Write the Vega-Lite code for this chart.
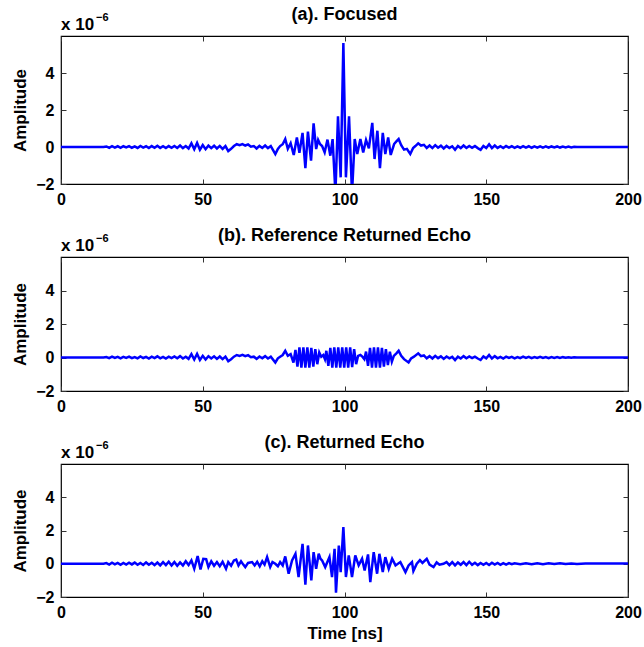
{
  "$schema": "https://vega.github.io/schema/vega-lite/v6.json",
  "padding": {"left": 10, "top": 5, "right": 2, "bottom": 2},
  "background": "white",
  "bounds": "flush",
  "spacing": 73,
  "datasets": {
    "a": [
      {"t":0,"v":0},{"t":15,"v":0},{"t":16,"v":0.03},{"t":17,"v":-0.04},{"t":18,"v":0.05},{"t":19,"v":-0.03},{"t":20,"v":0.04},{"t":21,"v":-0.05},{"t":22,"v":0.04},{"t":23,"v":-0.02},{"t":24,"v":0.05},{"t":25,"v":-0.04},{"t":26,"v":0.03},{"t":27,"v":-0.05},{"t":28,"v":0.06},{"t":29,"v":-0.03},{"t":30,"v":0.04},{"t":31,"v":-0.06},{"t":32,"v":0.05},{"t":33,"v":-0.04},{"t":34,"v":0.07},{"t":35,"v":-0.05},{"t":36,"v":0.04},{"t":37,"v":-0.06},{"t":38,"v":0.05},{"t":39,"v":-0.04},{"t":40,"v":0.06},{"t":41,"v":-0.05},{"t":42,"v":0.08},{"t":43,"v":-0.06},{"t":44,"v":0.05},{"t":45,"v":-0.08},{"t":46,"v":0.2},{"t":47,"v":-0.12},{"t":48,"v":0.22},{"t":49,"v":-0.15},{"t":50,"v":0.1},{"t":51,"v":-0.12},{"t":52,"v":0.08},{"t":53,"v":-0.06},{"t":54,"v":0.07},{"t":55,"v":-0.08},{"t":56,"v":0.06},{"t":57,"v":-0.1},{"t":58,"v":0.05},{"t":59,"v":-0.22},{"t":60,"v":-0.1},{"t":61,"v":0.05},{"t":62,"v":0.15},{"t":63,"v":0.1},{"t":64,"v":0.16},{"t":65,"v":0.08},{"t":66,"v":0.14},{"t":67,"v":0.02},{"t":68,"v":0.05},{"t":69,"v":-0.08},{"t":70,"v":0.06},{"t":71,"v":-0.05},{"t":72,"v":0.08},{"t":73,"v":-0.06},{"t":74,"v":0.05},
      {"t":75.6,"v":-0.38},{"t":76.5,"v":-0.1},{"t":77.3,"v":0.05},{"t":78.2,"v":0.15},{"t":79.1,"v":0.43},{"t":80,"v":-0.1},{"t":81,"v":0.2},{"t":82.1,"v":-0.43},{"t":83.2,"v":0.52},{"t":84.1,"v":-0.32},{"t":85.2,"v":0.76},{"t":86.2,"v":-1.15},{"t":87.1,"v":0.83},{"t":88.2,"v":-0.74},{"t":89.1,"v":1.28},{"t":90,"v":-0.11},{"t":90.7,"v":0.38},{"t":91.4,"v":0.15},{"t":92.1,"v":0.05},{"t":93,"v":-0.29},{"t":94,"v":0.4},{"t":95,"v":-0.47},{"t":95.8,"v":0.43},{"t":96.8,"v":-2.5},{"t":97.7,"v":1.66},{"t":98.65,"v":-1.64},{"t":99.6,"v":5.62},{"t":100.5,"v":-1.64},{"t":101.6,"v":1.66},{"t":102.65,"v":-2.5},{"t":103.6,"v":0.43},{"t":104.5,"v":-0.38},{"t":105.6,"v":0.43},{"t":106.6,"v":-0.29},{"t":107.6,"v":0.38},{"t":108.6,"v":-0.07},{"t":109.8,"v":1.3},{"t":110.6,"v":-0.65},{"t":111.6,"v":0.88},{"t":112.5,"v":-1.15},{"t":113.5,"v":0.76},{"t":114.4,"v":-0.38},{"t":115.4,"v":0.52},{"t":116.3,"v":-0.43},{"t":117.5,"v":0.16},{"t":118.3,"v":0.3},{"t":119.1,"v":0.43},{"t":120,"v":0.1},{"t":121,"v":-0.14},{"t":122,"v":-0.1},{"t":123.2,"v":-0.38},{"t":124.2,"v":-0.05},{"t":125,"v":0.05},{"t":126,"v":0.2},{"t":127,"v":0.08},{"t":128,"v":0.12},
      {"t":129,"v":-0.05},{"t":130,"v":0.08},{"t":131,"v":-0.06},{"t":132,"v":0.1},{"t":133,"v":-0.04},{"t":134,"v":0.07},{"t":135,"v":-0.08},{"t":136,"v":0.06},{"t":137,"v":-0.05},{"t":138,"v":0.04},{"t":139,"v":-0.15},{"t":140,"v":0.05},{"t":141,"v":-0.06},{"t":142,"v":0.08},{"t":143,"v":-0.05},{"t":144,"v":0.06},{"t":145,"v":-0.04},{"t":146,"v":0.05},{"t":147,"v":-0.06},{"t":148,"v":-0.15},{"t":149,"v":0.06},{"t":150,"v":-0.05},{"t":151,"v":0.15},{"t":152,"v":-0.06},{"t":153,"v":0.08},{"t":154,"v":-0.05},{"t":155,"v":0.04},{"t":156,"v":-0.06},{"t":157,"v":0.05},{"t":158,"v":-0.03},{"t":159,"v":0.04},{"t":160,"v":-0.05},{"t":161,"v":0.03},{"t":162,"v":-0.04},{"t":163,"v":0.05},{"t":164,"v":-0.03},{"t":165,"v":0.04},{"t":166,"v":-0.04},{"t":167,"v":0.03},{"t":168,"v":-0.03},{"t":169,"v":0.04},{"t":170,"v":-0.03},{"t":171,"v":0.03},{"t":172,"v":-0.04},{"t":173,"v":0.03},{"t":174,"v":-0.02},{"t":175,"v":0.03},{"t":176,"v":-0.03},{"t":177,"v":0.02},{"t":178,"v":-0.02},{"t":179,"v":0.02},{"t":180,"v":-0.02},{"t":181,"v":0.01},{"t":182,"v":0},{"t":200,"v":0}
    ],
    "b": [
      {"t":0,"v":0},{"t":15,"v":0},{"t":16,"v":0.03},{"t":17,"v":-0.04},{"t":18,"v":0.05},{"t":19,"v":-0.03},{"t":20,"v":0.04},{"t":21,"v":-0.05},{"t":22,"v":0.04},{"t":23,"v":-0.02},{"t":24,"v":0.05},{"t":25,"v":-0.04},{"t":26,"v":0.03},{"t":27,"v":-0.05},{"t":28,"v":0.06},{"t":29,"v":-0.03},{"t":30,"v":0.04},{"t":31,"v":-0.06},{"t":32,"v":0.05},{"t":33,"v":-0.04},{"t":34,"v":0.07},{"t":35,"v":-0.05},{"t":36,"v":0.04},{"t":37,"v":-0.06},{"t":38,"v":0.05},{"t":39,"v":-0.04},{"t":40,"v":0.06},{"t":41,"v":-0.05},{"t":42,"v":0.08},{"t":43,"v":-0.06},{"t":44,"v":0.05},{"t":45,"v":-0.08},{"t":46,"v":0.2},{"t":47,"v":-0.12},{"t":48,"v":0.22},{"t":49,"v":-0.15},{"t":50,"v":0.1},{"t":51,"v":-0.12},{"t":52,"v":0.08},{"t":53,"v":-0.06},{"t":54,"v":0.07},{"t":55,"v":-0.08},{"t":56,"v":0.06},{"t":57,"v":-0.1},{"t":58,"v":0.05},{"t":59,"v":-0.22},{"t":60,"v":-0.1},{"t":61,"v":0.05},{"t":62,"v":0.15},{"t":63,"v":0.1},{"t":64,"v":0.16},{"t":65,"v":0.08},{"t":66,"v":0.14},{"t":67,"v":0.02},{"t":68,"v":0.05},{"t":69,"v":-0.08},{"t":70,"v":0.06},{"t":71,"v":-0.05},{"t":72,"v":0.08},{"t":73,"v":-0.06},{"t":74,"v":0.05},
      {"t":75.6,"v":-0.3},{"t":76.5,"v":-0.05},{"t":77.3,"v":0.05},{"t":78.2,"v":0.15},{"t":79.1,"v":0.4},{"t":80,"v":0.1},{"t":81,"v":0.2},
      {"t":82,"v":-0.3},{"t":82.7,"v":0.45},{"t":83.4,"v":-0.55},{"t":84.1,"v":0.6},{"t":84.8,"v":-0.6},{"t":85.5,"v":0.6},{"t":86.2,"v":-0.6},{"t":86.9,"v":0.6},{"t":87.6,"v":-0.6},{"t":88.3,"v":0.58},{"t":89,"v":-0.55},{"t":89.7,"v":0.5},{"t":90.4,"v":-0.4},{"t":91.1,"v":0.3},{"t":91.8,"v":0.05},{"t":92.5,"v":0.15},{"t":93.1,"v":-0.1},
      {"t":93.6,"v":0.4},{"t":94.3,"v":-0.5},{"t":95,"v":0.58},{"t":95.7,"v":-0.6},{"t":96.4,"v":0.6},{"t":97.1,"v":-0.6},{"t":97.8,"v":0.6},{"t":98.5,"v":-0.6},{"t":99.2,"v":0.6},{"t":99.9,"v":-0.6},{"t":100.6,"v":0.6},{"t":101.3,"v":-0.6},{"t":102,"v":0.6},{"t":102.7,"v":-0.58},{"t":103.4,"v":0.5},{"t":104.1,"v":-0.4},{"t":104.8,"v":0.1},{"t":105.6,"v":0.15},{"t":106.3,"v":0.05},{"t":107,"v":-0.1},
      {"t":107.6,"v":0.35},{"t":108.3,"v":-0.5},{"t":109,"v":0.58},{"t":109.7,"v":-0.6},{"t":110.4,"v":0.6},{"t":111.1,"v":-0.6},{"t":111.8,"v":0.6},{"t":112.5,"v":-0.6},{"t":113.2,"v":0.58},{"t":113.9,"v":-0.55},{"t":114.6,"v":0.5},{"t":115.3,"v":-0.45},{"t":116,"v":0.35},{"t":116.7,"v":-0.25},{"t":117.4,"v":0.1},
      {"t":118.3,"v":0.25},{"t":119.1,"v":0.4},{"t":120,"v":0.1},{"t":121,"v":-0.1},{"t":122.6,"v":-0.3},{"t":123.5,"v":-0.05},{"t":124.5,"v":0.05},{"t":126,"v":0.25},{"t":127,"v":0.08},{"t":128,"v":0.12},
      {"t":129,"v":-0.05},{"t":130,"v":0.08},{"t":131,"v":-0.06},{"t":132,"v":0.1},{"t":133,"v":-0.04},{"t":134,"v":0.07},{"t":135,"v":-0.08},{"t":136,"v":0.06},{"t":137,"v":-0.05},{"t":138,"v":0.04},{"t":139,"v":-0.15},{"t":140,"v":0.05},{"t":141,"v":-0.06},{"t":142,"v":0.08},{"t":143,"v":-0.05},{"t":144,"v":0.06},{"t":145,"v":-0.04},{"t":146,"v":0.05},{"t":147,"v":-0.06},{"t":148,"v":-0.15},{"t":149,"v":0.06},{"t":150,"v":-0.05},{"t":151,"v":0.15},{"t":152,"v":-0.06},{"t":153,"v":0.08},{"t":154,"v":-0.05},{"t":155,"v":0.04},{"t":156,"v":-0.06},{"t":157,"v":0.05},{"t":158,"v":-0.03},{"t":159,"v":0.04},{"t":160,"v":-0.05},{"t":161,"v":0.03},{"t":162,"v":-0.04},{"t":163,"v":0.05},{"t":164,"v":-0.03},{"t":165,"v":0.04},{"t":166,"v":-0.04},{"t":167,"v":0.03},{"t":168,"v":-0.03},{"t":169,"v":0.04},{"t":170,"v":-0.03},{"t":171,"v":0.03},{"t":172,"v":-0.04},{"t":173,"v":0.03},{"t":174,"v":-0.02},{"t":175,"v":0.03},{"t":176,"v":-0.03},{"t":177,"v":0.02},{"t":178,"v":-0.02},{"t":179,"v":0.02},{"t":180,"v":-0.02},{"t":181,"v":0.01},{"t":182,"v":0},{"t":200,"v":0}
    ],
    "c": [
      {"t":0,"v":0},{"t":15,"v":0},{"t":16,"v":0.04},{"t":17,"v":-0.05},{"t":18,"v":0.06},{"t":19,"v":-0.04},{"t":20,"v":0.05},{"t":21,"v":-0.06},{"t":22,"v":0.05},{"t":23,"v":-0.05},{"t":24,"v":0.06},{"t":25,"v":-0.04},{"t":26,"v":0.07},{"t":27,"v":-0.06},{"t":28,"v":0.05},{"t":29,"v":-0.07},{"t":30,"v":0.08},{"t":31,"v":-0.06},{"t":32,"v":0.06},{"t":33,"v":-0.08},{"t":34,"v":0.07},{"t":35,"v":-0.1},{"t":36,"v":0.1},{"t":37,"v":-0.08},{"t":38,"v":0.12},{"t":39,"v":-0.1},{"t":40,"v":0.1},{"t":41,"v":-0.12},{"t":42,"v":0.08},{"t":43,"v":-0.1},{"t":44,"v":0.15},{"t":45,"v":-0.08},{"t":46,"v":0.2},{"t":47,"v":-0.3},{"t":48.2,"v":0.46},{"t":49.2,"v":-0.34},{"t":50.2,"v":0.3},{"t":51.2,"v":0.28},{"t":52,"v":-0.2},{"t":53,"v":0.15},{"t":54,"v":-0.12},{"t":55,"v":0.1},{"t":56,"v":-0.15},{"t":57,"v":0.12},{"t":58.2,"v":-0.3},{"t":59,"v":0.1},{"t":60,"v":-0.12},{"t":61,"v":0.2},{"t":61.8,"v":0.25},{"t":62.6,"v":-0.1},{"t":63.5,"v":0.15},{"t":64.3,"v":-0.05},{"t":65,"v":-0.2},{"t":66,"v":0.05},{"t":67.4,"v":0.1},{"t":68.3,"v":-0.1},{"t":69.2,"v":0.12},{"t":70.1,"v":-0.15},{"t":71,"v":0.15},{"t":71.8,"v":-0.05},{"t":72.7,"v":0.4},{"t":73.8,"v":-0.2},{"t":74.6,"v":0.1},{"t":75.6,"v":0},{"t":76.5,"v":-0.15},{"t":77.3,"v":0.1},{"t":78.2,"v":-0.1},{"t":79.1,"v":0.44},{"t":80.3,"v":-0.6},{"t":81.5,"v":0.2},{"t":82.7,"v":0.6},{"t":83.8,"v":-0.8},{"t":84.5,"v":0.2},{"t":85.2,"v":1.2},{"t":86.2,"v":-1.26},{"t":87.1,"v":1.1},{"t":88.3,"v":-1.0},{"t":89.1,"v":0.7},{"t":90,"v":-0.3},{"t":90.9,"v":0.6},{"t":91.5,"v":0.3},{"t":92.1,"v":0.2},{"t":93.2,"v":-0.2},{"t":94.7,"v":0.4},{"t":95.6,"v":-0.8},{"t":96.5,"v":0.9},{"t":97,"v":-1.74},{"t":98,"v":1.1},{"t":98.65,"v":-0.5},{"t":99.6,"v":2.2},{"t":100.5,"v":-0.8},{"t":101.5,"v":0.5},{"t":102.65,"v":-0.8},{"t":103.8,"v":0.5},{"t":105,"v":-0.1},{"t":106.2,"v":0.3},{"t":107.1,"v":-0.4},{"t":108.3,"v":0.56},{"t":109.1,"v":-1.1},{"t":110.3,"v":0.7},{"t":111.5,"v":-0.6},{"t":112.3,"v":0.6},{"t":113.5,"v":-0.5},{"t":114.4,"v":0.4},{"t":115.6,"v":-0.3},{"t":116.8,"v":0.3},{"t":118,"v":-0.1},{"t":119.7,"v":0.1},{"t":121.5,"v":-0.5},{"t":122.6,"v":-0.1},{"t":123.8,"v":0.1},{"t":124.3,"v":-0.44},{"t":125.5,"v":0},{"t":126.6,"v":0.22},{"t":127.5,"v":0.05},{"t":129,"v":0.3},{"t":130,"v":-0.05},{"t":131.4,"v":-0.2},{"t":132.5,"v":0.08},{"t":133.5,"v":-0.06},{"t":134.9,"v":0},{"t":136,"v":0.1},{"t":137,"v":-0.08},{"t":138,"v":0.1},{"t":139,"v":-0.1},{"t":140,"v":0.08},{"t":141,"v":-0.06},{"t":142,"v":0.1},{"t":143,"v":-0.08},{"t":144,"v":0.12},{"t":145,"v":-0.06},{"t":146,"v":0.06},{"t":147,"v":-0.08},{"t":148,"v":0.05},{"t":149,"v":-0.06},{"t":150,"v":0.05},{"t":151,"v":-0.07},{"t":152,"v":0.06},{"t":153,"v":-0.05},{"t":154,"v":0.05},{"t":155,"v":-0.06},{"t":156,"v":0.04},{"t":157,"v":-0.05},{"t":158,"v":0.04},{"t":159,"v":-0.03},{"t":160,"v":0.03},{"t":162,"v":-0.03},{"t":164,"v":0.03},{"t":166,"v":-0.03},{"t":168,"v":0.03},{"t":170,"v":-0.03},{"t":172,"v":0.03},{"t":174,"v":-0.02},{"t":176,"v":0.03},{"t":178,"v":-0.02},{"t":180,"v":0.02},{"t":182,"v":-0.01},{"t":185,"v":0.01},{"t":190,"v":0.02},{"t":195,"v":0.01},{"t":200,"v":0.02}
    ]
  },
  "vconcat": [
    {
      "title": "(a). Focused",
      "width": 567, "height": 148,
      "data": {"name": "a"},
      "layer": [
        {"mark": {"type": "line", "strokeOpacity": 0, "clip": true},
         "encoding": {
           "x": {"field": "t", "type": "quantitative", "scale": {"domain": [0, 200]}, "axis": {"orient": "top", "labels": false, "title": null, "values": [0, 50, 100, 150, 200]}},
           "y": {"field": "v", "type": "quantitative", "scale": {"domain": [-2, 6]}, "axis": {"orient": "right", "labels": false, "title": null, "values": [-2, 0, 2, 4]}}}},
        {"mark": {"type": "line", "color": "#0000ff", "strokeWidth": 2.5, "clip": true},
         "encoding": {
           "x": {"field": "t", "type": "quantitative", "axis": {"orient": "bottom", "title": null, "values": [0, 50, 100, 150, 200]}},
           "y": {"field": "v", "type": "quantitative", "axis": {"orient": "left", "title": "Amplitude", "values": [-2, 0, 2, 4]}}}},
        {"data": {"values": [{"label": "x 10"}]},
         "mark": {"type": "text", "align": "left", "baseline": "alphabetic", "dy": -6, "fontSize": 17, "fontWeight": "bold", "font": "Liberation Sans", "color": "black"},
         "encoding": {"text": {"field": "label"}, "x": {"datum": 0, "type": "quantitative", "axis": null}, "y": {"datum": 6, "type": "quantitative", "axis": null}}},
        {"data": {"values": [{"label": "−6"}]},
         "mark": {"type": "text", "align": "left", "baseline": "alphabetic", "dx": 35, "dy": -15, "fontSize": 11, "fontWeight": "bold", "font": "Liberation Sans", "color": "black"},
         "encoding": {"text": {"field": "label"}, "x": {"datum": 0, "type": "quantitative", "axis": null}, "y": {"datum": 6, "type": "quantitative", "axis": null}}}
      ],
      "resolve": {"axis": {"x": "independent", "y": "independent"}}
    },
    {
      "title": "(b). Reference Returned Echo",
      "width": 567, "height": 134,
      "data": {"name": "b"},
      "layer": [
        {"mark": {"type": "line", "strokeOpacity": 0, "clip": true},
         "encoding": {
           "x": {"field": "t", "type": "quantitative", "scale": {"domain": [0, 200]}, "axis": {"orient": "top", "labels": false, "title": null, "values": [0, 50, 100, 150, 200]}},
           "y": {"field": "v", "type": "quantitative", "scale": {"domain": [-2, 6]}, "axis": {"orient": "right", "labels": false, "title": null, "values": [-2, 0, 2, 4]}}}},
        {"mark": {"type": "line", "color": "#0000ff", "strokeWidth": 2.5, "clip": true},
         "encoding": {
           "x": {"field": "t", "type": "quantitative", "axis": {"orient": "bottom", "title": null, "values": [0, 50, 100, 150, 200]}},
           "y": {"field": "v", "type": "quantitative", "axis": {"orient": "left", "title": "Amplitude", "values": [-2, 0, 2, 4]}}}},
        {"data": {"values": [{"label": "x 10"}]},
         "mark": {"type": "text", "align": "left", "baseline": "alphabetic", "dy": -6, "fontSize": 17, "fontWeight": "bold", "font": "Liberation Sans", "color": "black"},
         "encoding": {"text": {"field": "label"}, "x": {"datum": 0, "type": "quantitative", "axis": null}, "y": {"datum": 6, "type": "quantitative", "axis": null}}},
        {"data": {"values": [{"label": "−6"}]},
         "mark": {"type": "text", "align": "left", "baseline": "alphabetic", "dx": 35, "dy": -15, "fontSize": 11, "fontWeight": "bold", "font": "Liberation Sans", "color": "black"},
         "encoding": {"text": {"field": "label"}, "x": {"datum": 0, "type": "quantitative", "axis": null}, "y": {"datum": 6, "type": "quantitative", "axis": null}}}
      ],
      "resolve": {"axis": {"x": "independent", "y": "independent"}}
    },
    {
      "title": "(c). Returned Echo",
      "width": 567, "height": 133,
      "data": {"name": "c"},
      "layer": [
        {"mark": {"type": "line", "strokeOpacity": 0, "clip": true},
         "encoding": {
           "x": {"field": "t", "type": "quantitative", "scale": {"domain": [0, 200]}, "axis": {"orient": "top", "labels": false, "title": null, "values": [0, 50, 100, 150, 200]}},
           "y": {"field": "v", "type": "quantitative", "scale": {"domain": [-2, 6]}, "axis": {"orient": "right", "labels": false, "title": null, "values": [-2, 0, 2, 4]}}}},
        {"mark": {"type": "line", "color": "#0000ff", "strokeWidth": 2.5, "clip": true},
         "encoding": {
           "x": {"field": "t", "type": "quantitative", "axis": {"orient": "bottom", "title": "Time [ns]", "values": [0, 50, 100, 150, 200]}},
           "y": {"field": "v", "type": "quantitative", "axis": {"orient": "left", "title": "Amplitude", "values": [-2, 0, 2, 4]}}}},
        {"data": {"values": [{"label": "x 10"}]},
         "mark": {"type": "text", "align": "left", "baseline": "alphabetic", "dy": -6, "fontSize": 17, "fontWeight": "bold", "font": "Liberation Sans", "color": "black"},
         "encoding": {"text": {"field": "label"}, "x": {"datum": 0, "type": "quantitative", "axis": null}, "y": {"datum": 6, "type": "quantitative", "axis": null}}},
        {"data": {"values": [{"label": "−6"}]},
         "mark": {"type": "text", "align": "left", "baseline": "alphabetic", "dx": 35, "dy": -15, "fontSize": 11, "fontWeight": "bold", "font": "Liberation Sans", "color": "black"},
         "encoding": {"text": {"field": "label"}, "x": {"datum": 0, "type": "quantitative", "axis": null}, "y": {"datum": 6, "type": "quantitative", "axis": null}}}
      ],
      "resolve": {"axis": {"x": "independent", "y": "independent"}}
    }
  ],
  "config": {
    "font": "Liberation Sans",
    "view": {"stroke": "black", "strokeWidth": 1.2},
    "axis": {
      "domain": false, "grid": false, "ticks": true, "tickSize": -5, "tickColor": "#333333", "tickWidth": 1,
      "labelFont": "Liberation Sans", "labelFontSize": 16, "labelFontWeight": "bold", "labelColor": "black",
      "labelFlush": false, "labelOverlap": false, "labelPadding": 12, "labelBound": false,
      "titleFont": "Liberation Sans", "titleFontSize": 17, "titleFontWeight": "bold", "titleColor": "black", "titlePadding": 5
    },
    "axisLeft": {"titleX": -32},
    "title": {"font": "Liberation Sans", "fontSize": 18, "fontWeight": "bold", "color": "black", "offset": -12}
  }
}
